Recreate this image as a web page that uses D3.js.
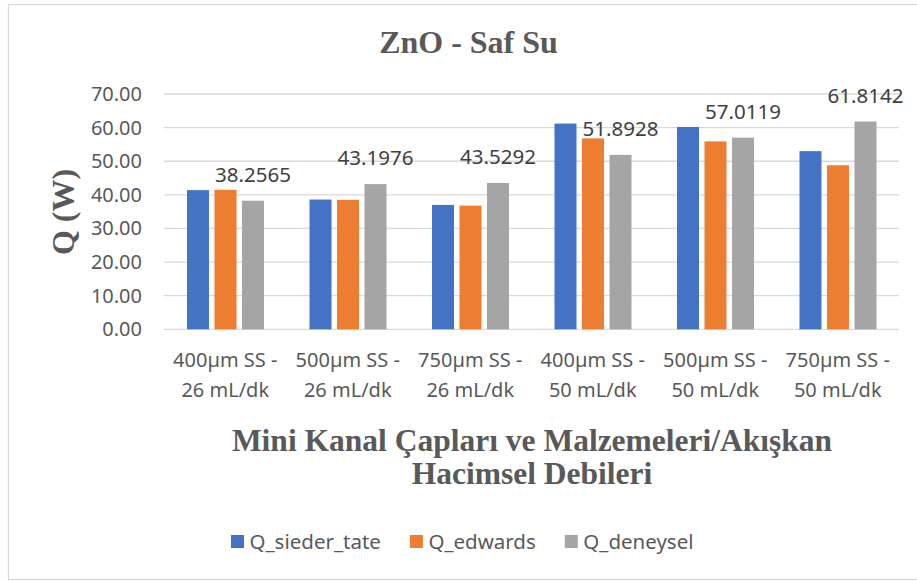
<!DOCTYPE html>
<html>
<head>
<meta charset="utf-8">
<script src="https://cdn.jsdelivr.net/npm/d3@7"></script>
<style>
  body { margin: 0; background: white; }
</style>
</head>
<body>
<div id="container"></div>
<script>
var w = 917;
var h = 581;

// data
var categories = [
  ["400µm SS -", "26 mL/dk"],
  ["500µm SS -", "26 mL/dk"],
  ["750µm SS -", "26 mL/dk"],
  ["400µm SS -", "50 mL/dk"],
  ["500µm SS -", "50 mL/dk"],
  ["750µm SS -", "50 mL/dk"]
];
var seriesNames = ["Q_sieder_tate", "Q_edwards", "Q_deneysel"];
var qSiederTate = [41.4, 38.6, 37.0, 61.2, 60.2, 53.0];
var qEdwards = [41.5, 38.5, 36.8, 56.8, 55.9, 48.8];
var qDeneysel = [38.2565, 43.1976, 43.5292, 51.8928, 57.0119, 61.8142];
var yTicks = [0, 10, 20, 30, 40, 50, 60, 70];
var seriesColors = ["#4472C4", "#ED7D31", "#A5A5A5"];

var seriesValues = [qSiederTate, qEdwards, qDeneysel];

var svg = d3.select("div#container").append("svg")
    .attr("width", w)
    .attr("height", h)
    .style("background-color", "white");

// chart frame
svg.append("rect")
    .attr("x", 8.5).attr("y", 4.5)
    .attr("width", w + 20).attr("height", 575)
    .attr("fill", "white")
    .attr("stroke", "#d9d9d9")
    .attr("stroke-width", 1.3);

var x0 = d3.scaleBand()
    .domain(d3.range(categories.length))
    .range([164, 899]);

var x1 = d3.scaleBand()
    .domain(d3.range(seriesNames.length))
    .range([23, 100])
    .paddingInner(0.2);

var y = d3.scaleLinear()
    .domain([0, 70])
    .range([329.3, 94]);

var sans = "'Noto Sans', 'Open Sans', sans-serif";
var serif = "'Liberation Serif', 'DejaVu Serif', serif";

// gridlines
svg.append("g")
  .selectAll("line")
  .data(yTicks)
  .enter().append("line")
    .attr("x1", x0.range()[0])
    .attr("x2", x0.range()[1])
    .attr("y1", function(d) { return y(d); })
    .attr("y2", function(d) { return y(d); })
    .attr("stroke", "#d9d9d9")
    .attr("stroke-width", 1.3);

// y axis
var yAxis = svg.append("g")
    .attr("transform", "translate(142,0)")
    .call(d3.axisLeft(y).tickValues(yTicks).tickSize(0).tickPadding(0).tickFormat(d3.format(".2f")));
yAxis.select(".domain").remove();
yAxis.selectAll("text")
    .attr("fill", "#595959")
    .style("font-family", sans)
    .style("font-size", "20px");

// bars
var groups = svg.append("g")
  .selectAll("g")
  .data(categories)
  .enter().append("g")
    .attr("transform", function(d, i) { return "translate(" + x0(i) + ",0)"; });

groups.selectAll("rect")
  .data(function(d, i) { return seriesValues.map(function(s, k) { return {k: k, v: s[i]}; }); })
  .enter().append("rect")
    .attr("x", function(d) { return x1(d.k); })
    .attr("width", x1.bandwidth())
    .attr("y", function(d) { return y(d.v); })
    .attr("height", function(d) { return y(0) - y(d.v); })
    .attr("fill", function(d) { return seriesColors[d.k]; });

// data labels on Q_deneysel
groups.append("text")
    .attr("x", x1(2) + x1.bandwidth() / 2)
    .attr("y", function(d, i) { return y(qDeneysel[i]) - 19; })
    .attr("text-anchor", "middle")
    .attr("fill", "#404040")
    .style("font-family", sans)
    .style("font-size", "20.5px")
    .text(function(d, i) { return qDeneysel[i].toFixed(4); });

// category labels
var cat = svg.append("g")
  .selectAll("text")
  .data(categories)
  .enter().append("text")
    .attr("x", function(d, i) { return x0(i) + x0.bandwidth() / 2; })
    .attr("y", 367)
    .attr("text-anchor", "middle")
    .attr("fill", "#595959")
    .style("font-family", sans)
    .style("font-size", "20px");
cat.append("tspan")
    .attr("x", function(d, i) { return x0(i) + x0.bandwidth() / 2; })
    .text(function(d) { return d[0]; });
cat.append("tspan")
    .attr("x", function(d, i) { return x0(i) + x0.bandwidth() / 2; })
    .attr("dy", 29.5)
    .text(function(d) { return d[1]; });

// title
svg.append("text")
    .attr("x", 468.5)
    .attr("y", 53)
    .attr("text-anchor", "middle")
    .attr("fill", "#595959")
    .attr("font-weight", "bold")
    .style("font-family", serif)
    .style("font-size", "32px")
    .text("ZnO - Saf Su");

// axis titles
var xt = svg.append("text")
    .attr("text-anchor", "middle")
    .attr("fill", "#595959")
    .attr("font-weight", "bold")
    .style("font-family", serif)
    .style("font-size", "31.5px");
xt.append("tspan").attr("x", 532).attr("y", 450.5).text("Mini Kanal Çapları ve Malzemeleri/Akışkan");
xt.append("tspan").attr("x", 532).attr("y", 484).text("Hacimsel Debileri");

svg.append("text")
    .attr("transform", "translate(74,212) rotate(-90)")
    .attr("text-anchor", "middle")
    .attr("fill", "#595959")
    .attr("font-weight", "bold")
    .style("font-family", serif)
    .style("font-size", "32px")
    .text("Q (W)");

// legend
var lx = 231;
seriesNames.forEach(function(name, k) {
  svg.append("rect")
      .attr("x", lx).attr("y", 535)
      .attr("width", 13).attr("height", 13)
      .attr("fill", seriesColors[k]);
  var t = svg.append("text")
      .attr("x", lx + 18.5)
      .attr("y", 549)
      .attr("fill", "#595959")
      .style("font-family", sans)
      .style("font-size", "20.5px")
      .text(name);
  lx = lx + 18.5 + t.node().getComputedTextLength() + 29;
});
</script>
</body>
</html>
